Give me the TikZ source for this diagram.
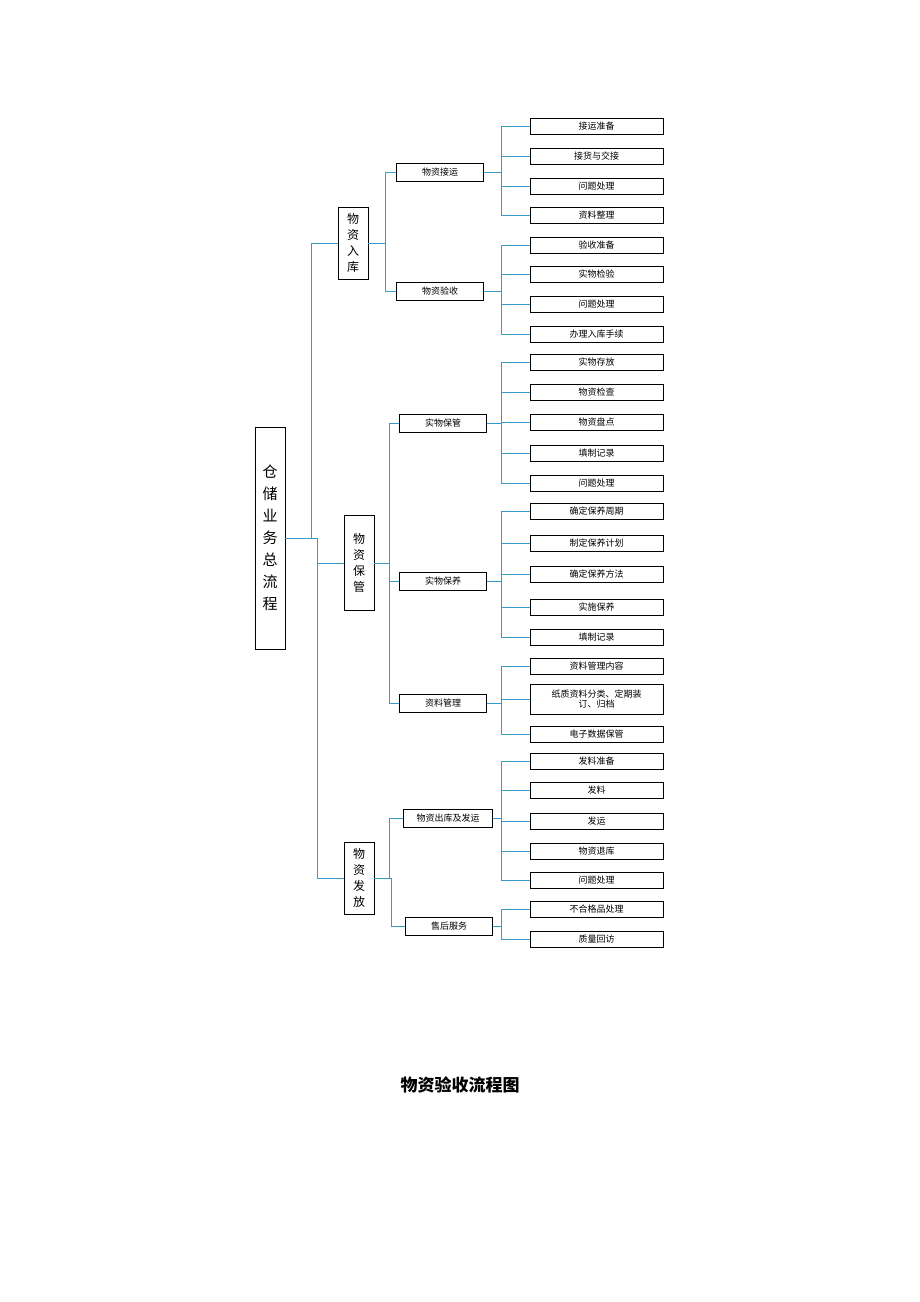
\documentclass[tikz,border=0pt]{standalone}
\usepackage{fontspec}
\setmainfont{Noto Sans CJK SC}
\usetikzlibrary{positioning}
\definecolor{linkblue}{HTML}{3A9AD0}
\begin{document}
\begin{tikzpicture}[x=1pt,y=-1pt,
  box/.style={draw=black,line width=0.6pt,inner sep=0pt,align=center},
  leaf/.style={box,minimum width=133pt,minimum height=16pt,font=\fontsize{9}{10}\selectfont},
  mid/.style={box,minimum width=87pt,minimum height=18pt,font=\fontsize{9}{10}\selectfont},
  vbox/.style={box,minimum width=30pt,font=\fontsize{12}{16}\selectfont},
  link/.style={draw=linkblue,line width=0.6pt}]
\useasboundingbox (0,0) rectangle (920,1302);
% root and second level
\node[vbox,minimum height=222pt,font=\fontsize{15}{22}\selectfont] (root) at (270,538) {仓\\储\\业\\务\\总\\流\\程};
\node[vbox,minimum height=72pt] (in) at (353,243) {物\\资\\入\\库};
\node[vbox,minimum height=95pt] (keep) at (359,563) {物\\资\\保\\管};
\node[vbox,minimum height=72pt] (out) at (359,878) {物\\资\\发\\放};
% third level
\node[mid] (jy) at (440,172) {物资接运};
\node[mid] (ys) at (440,291) {物资验收};
\node[mid] (bg) at (443,423) {实物保管};
\node[mid] (by) at (443,581) {实物保养};
\node[mid] (zl) at (443,703) {资料管理};
\node[mid,minimum width=89pt] (ck) at (448,818) {物资出库及发运};
\node[mid] (sh) at (449,926) {售后服务};
% connectors of upper levels
\foreach \c in {in,keep,out} \draw[link] (root.east) -| ([xshift=-26pt]\c.west) -- (\c.west);
\foreach \c in {jy,ys} \draw[link] (in.east) -| ([xshift=-11pt]\c.west) -- (\c.west);
\foreach \c in {bg,by,zl} \draw[link] (keep.east) -| ([xshift=-10pt]\c.west) -- (\c.west);
\foreach \c in {ck,sh} \draw[link] (out.east) -| ([xshift=-14pt]\c.west) -- (\c.west);
% leaves
\foreach \p/\n/\y/\t in {
  jy/a1/126/接运准备, jy/a2/156/接货与交接, jy/a3/186/问题处理, jy/a4/215/资料整理,
  ys/b1/245/验收准备, ys/b2/274/实物检验, ys/b3/304/问题处理, ys/b4/334/办理入库手续,
  bg/c1/362/实物存放, bg/c2/392/物资检查, bg/c3/422/物资盘点, bg/c4/453/填制记录, bg/c5/483/问题处理,
  by/d1/511/确定保养周期, by/d2/543/制定保养计划, by/d3/574/确定保养方法, by/d4/607/实施保养, by/d5/637/填制记录,
  zl/e1/666/资料管理内容, zl/e3/734/电子数据保管,
  ck/f1/761/发料准备, ck/f2/790/发料, ck/f3/821/发运, ck/f4/851/物资退库, ck/f5/880/问题处理,
  sh/g1/909/不合格品处理, sh/g2/939/质量回访}
{
  \node[leaf] (\n) at (596.5,\y) {\t};
  \draw[link] (\p.east) -| ([xshift=-28pt]\n.west) -- (\n.west);
}
\node[leaf,minimum height=30pt] (e2) at (596.5,699) {纸质资料分类、定期装\\订、归档};
\draw[link] (zl.east) -| ([xshift=-28pt]e2.west) -- (e2.west);
% title
\node[font=\fontsize{17}{20}\selectfont\bfseries] (title) at (460,1085) {物资验收流程图};
\end{tikzpicture}
\end{document}
